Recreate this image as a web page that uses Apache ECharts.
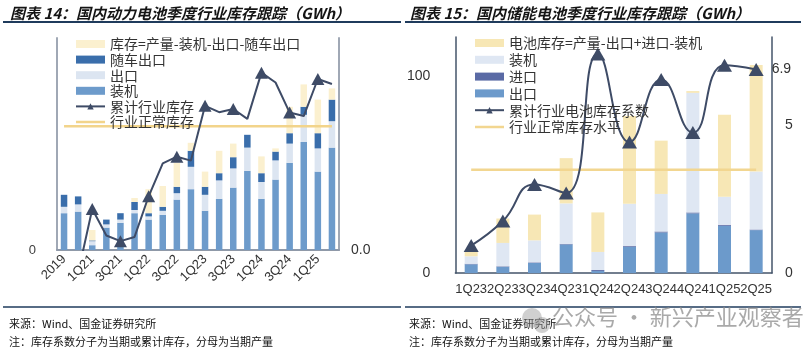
<!DOCTYPE html>
<html><head><meta charset="utf-8">
<script src="https://cdn.jsdelivr.net/npm/echarts@6/dist/echarts.min.js"></script>
<style>
html,body{margin:0;padding:0;background:#fff;}
#wrap{position:relative;width:808px;height:351px;overflow:hidden;}
#c1{position:absolute;left:0;top:0;width:404px;height:351px;}
#c2{position:absolute;left:404px;top:0;width:404px;height:351px;}
</style></head><body>
<div id="wrap"><div id="c1"></div><div id="c2"></div></div>
<script>
// ---------- Chart 14 data (GWh, inventory coefficient) ----------
const cats1 = ['2019','2020','1Q21','2Q21','3Q21','4Q21','1Q22','2Q22','3Q22','4Q22','1Q23','2Q23','3Q23','4Q23','1Q24','2Q24','3Q24','4Q24','1Q25','2Q25'];
const install1 = [46, 48, 6, 28, 34, 46, 38, 44, 63, 76, 49, 64, 78, 99, 64, 88, 109, 135, 98, 128];
const export1  = [8, 9, 5, 4, 4, 4, 4, 5, 8, 28, 20, 23, 24, 29, 21, 24, 24, 34, 29, 33];
const vehExport1 = [15, 10, 1, 6, 8, 10, 4, 5, 8, 20, 10, 9, 14, 16, 11, 11, 13, 10, 19, 27];
const stock1   = [0, 0, 13, 0, 0, 5, 30, 26, 30, 10, 19, 28, 17, 0, 21, 4, 33, 28, 42, 14];
const coef1    = [null, -0.65, 1.16, 0.41, 0.25, 0.37, 1.52, 2.45, 2.64, 2.53, 4.08, 3.90, 3.99, 3.71, 5.02, 4.74, 3.89, 3.79, 4.84, 4.70];
const normal1  = [3.5,3.5,3.5,3.5,3.5,3.5,3.5,3.5,3.5,3.5,3.5,3.5,3.5,3.5,3.5,3.5,3.5,3.5,3.5,3.5];
const names1 = ['库存=产量-装机-出口-随车出口','随车出口','出口','装机','累计行业库存','行业正常库存'];
const title1 = '图表 14：国内动力电池季度行业库存跟踪（GWh）';

// ---------- Chart 15 data ----------
const cats2 = ['1Q23','2Q23','3Q23','4Q23','1Q24','2Q24','3Q24','4Q24','1Q25','2Q25'];
const export2  = [4.4, 3.1, 5.1, 14.5, 1.0, 13.3, 20.6, 30.3, 24.0, 21.8];
const import2  = [0.3, 0.3, 0.3, 0.3, 0.5, 0.4, 0.5, 0.5, 0.5, 0.3];
const install2 = [3.8, 11.9, 11.2, 20.6, 9.2, 21.5, 19.1, 60.8, 14.3, 29.5];
const stock2   = [2.2, 12.4, 13.1, 23.0, 20.1, 44.6, 27.1, 0.9, 41.7, 54.2];
const coef2    = [0.93, 1.76, 3.00, 2.71, 7.42, 4.44, 6.56, 4.76, 7.04, 6.9];
const normal2  = [3.5,3.5,3.5,3.5,3.5,3.5,3.5,3.5,3.5,3.5];
const names2 = ['电池库存=产量-出口+进口-装机','装机','进口','出口','累计行业电池库存系数','行业正常库存水平'];
const title2 = '图表 15：国内储能电池季度行业库存跟踪（GWh）';

const source = '来源：Wind、国金证券研究所';
const note = '注：库存系数分子为当期或累计库存，分母为当期产量';
const watermark = '公众号 · 新兴产业观察者';

const FONT = '"Liberation Sans", Arial, sans-serif';
const CJK = '"Noto Sans CJK SC", "Noto Sans", sans-serif';
const NAVY = '#1F3B5C';
const LINEC = '#3E4B66';
const LINE_ICON = 'path://M0,0H58V5H0Z';

function lastLabeled(arr, fmt){
  return arr.map((v,i)=> i===arr.length-1 ? {value:v, label:{show:true, position:'right', distance:8, formatter:fmt, fontSize:14, color:'#333', fontFamily:FONT}} : v);
}
function headers(title, left){
  return [
    {text:title, left:left, top:1, textStyle:{fontSize:15, fontWeight:'bold', fontStyle:'italic', color:'#141414', fontFamily:CJK}},
    {text:source, left:left-1, top:313, textStyle:{fontSize:11, fontWeight:'normal', color:'#111', fontFamily:CJK}},
    {text:note, left:left-1, top:331, textStyle:{fontSize:11, fontWeight:'normal', color:'#111', fontFamily:CJK}}
  ];
}
function rules(x1,x2){
  return [
    {type:'line', shape:{x1:x1,y1:22,x2:x2,y2:22}, style:{stroke:NAVY, lineWidth:2}},
    {type:'line', shape:{x1:x1,y1:307,x2:x2,y2:307}, style:{stroke:NAVY, lineWidth:1.5}}
  ];
}

// ---------- Chart 14 ----------
const c1 = echarts.init(document.getElementById('c1'), null, {renderer:'canvas'});
c1.setOption({
  animation:false,
  textStyle:{fontFamily:CJK},
  title: headers(title1, 5),
  graphic: rules(3,401),
  legend:{orient:'vertical', left:70, top:32, itemWidth:29, itemHeight:8, itemGap:1.6,
    textStyle:{fontSize:14, color:'#333', fontFamily:CJK},
    data:[{name:names1[0],icon:'rect'},{name:names1[1],icon:'rect'},{name:names1[2],icon:'rect'},{name:names1[3],icon:'rect'},{name:names1[4]},{name:names1[5],icon:LINE_ICON}]},
  grid:{left:57, top:38, width:282, height:212},
  xAxis:{type:'category', data:cats1, axisLine:{lineStyle:{color:'#8F99A8', width:2}}, axisTick:{show:false},
    axisLabel:{interval:1, rotate:45, fontSize:13, color:'#333', fontFamily:FONT, margin:7}},
  yAxis:[
    {type:'value', min:0, max:265, interval:265, splitLine:{show:false}, axisTick:{show:false},
      axisLine:{show:true, lineStyle:{color:'#A0A8B5', width:2}},
      axisLabel:{formatter:v=>v===0?'0':'', fontSize:13, color:'#404040', fontFamily:FONT, margin:21}},
    {type:'value', min:0, max:6, interval:6, position:'right', splitLine:{show:false}, axisTick:{show:false},
      axisLine:{show:true, lineStyle:{color:'#A0A8B5', width:2}},
      axisLabel:{formatter:v=>v===0?'0.0':'', fontSize:14, color:'#333', fontFamily:FONT, margin:12}}
  ],
  series:[
    {name:names1[3], type:'bar', stack:'s', barWidth:6.5, itemStyle:{color:'#6D9BCB'}, data:install1},
    {name:names1[2], type:'bar', stack:'s', itemStyle:{color:'#DCE5F1'}, data:export1},
    {name:names1[1], type:'bar', stack:'s', itemStyle:{color:'#3A6EAB'}, data:vehExport1},
    {name:names1[0], type:'bar', stack:'s', itemStyle:{color:'#FBF0CF'}, data:stock1},
    {name:names1[5], type:'line', yAxisIndex:1, symbol:'none', lineStyle:{color:'#F2D48B', width:2.5}, itemStyle:{color:'#F2D48B'}, data:normal1},
    {name:names1[4], type:'line', yAxisIndex:1, symbol:'triangle', symbolSize:[13,12], lineStyle:{color:LINEC, width:2}, itemStyle:{color:LINEC}, data:lastLabeled(coef1, '4.7')}
  ]
});

// ---------- Chart 15 ----------
const c2 = echarts.init(document.getElementById('c2'), null, {renderer:'canvas'});
const g2 = rules(1,397).concat([
  {type:'circle', shape:{cx:128, cy:318, r:10}, style:{fill:'rgba(150,150,150,0.45)'}, z:100},
  {type:'circle', shape:{cx:138, cy:325, r:8}, style:{fill:'rgba(150,150,150,0.45)'}, z:100},
  {type:'text', left:148, top:306, style:{text:watermark, fontSize:22, fill:'rgba(140,140,140,0.75)', fontFamily:CJK}, z:100}
]);
c2.setOption({
  animation:false,
  textStyle:{fontFamily:CJK},
  title: headers(title2, 1),
  graphic: g2,
  legend:{orient:'vertical', left:65, top:31, itemWidth:29, itemHeight:8, itemGap:2.8,
    textStyle:{fontSize:14, color:'#333', fontFamily:CJK},
    data:[{name:names2[0],icon:'rect'},{name:names2[1],icon:'rect'},{name:names2[2],icon:'rect'},{name:names2[3],icon:'rect'},{name:names2[4]},{name:names2[5],icon:LINE_ICON}]},
  grid:{left:38, top:37, width:330, height:236},
  xAxis:{type:'category', data:cats2, axisLine:{lineStyle:{color:'#44546A', width:1.5}}, axisTick:{show:false},
    axisLabel:{interval:0, fontSize:13, color:'#333', fontFamily:FONT, margin:10}},
  yAxis:[
    {type:'value', min:0, max:120, interval:100, splitLine:{show:false}, axisTick:{show:false},
      axisLine:{show:true, lineStyle:{color:'#44546A', width:1.5}},
      axisLabel:{formatter:v=>(v===0||v===100)?String(v):'', fontSize:14, color:'#333', fontFamily:FONT, margin:25}},
    {type:'value', min:0, max:8, interval:5, position:'right', splitLine:{show:false}, axisTick:{show:false},
      axisLine:{show:true, lineStyle:{color:'#44546A', width:1.5}},
      axisLabel:{formatter:v=>(v===0||v===5)?String(v):'', fontSize:14, color:'#333', fontFamily:FONT, margin:13}}
  ],
  series:[
    {name:names2[3], type:'bar', stack:'s', barWidth:13, itemStyle:{color:'#6C9ACB'}, data:export2},
    {name:names2[2], type:'bar', stack:'s', itemStyle:{color:'#5A6AA5'}, data:import2},
    {name:names2[1], type:'bar', stack:'s', itemStyle:{color:'#DFE7F3'}, data:install2},
    {name:names2[0], type:'bar', stack:'s', itemStyle:{color:'#F7E7B5'}, data:stock2},
    {name:names2[5], type:'line', yAxisIndex:1, symbol:'none', lineStyle:{color:'#F2D690', width:2.5}, itemStyle:{color:'#F2D690'}, data:normal2},
    {name:names2[4], type:'line', yAxisIndex:1, smooth:true, symbol:'triangle', symbolSize:[15,13], lineStyle:{color:LINEC, width:2}, itemStyle:{color:LINEC}, data:lastLabeled(coef2, '6.9')}
  ]
});
</script>
</body></html>
